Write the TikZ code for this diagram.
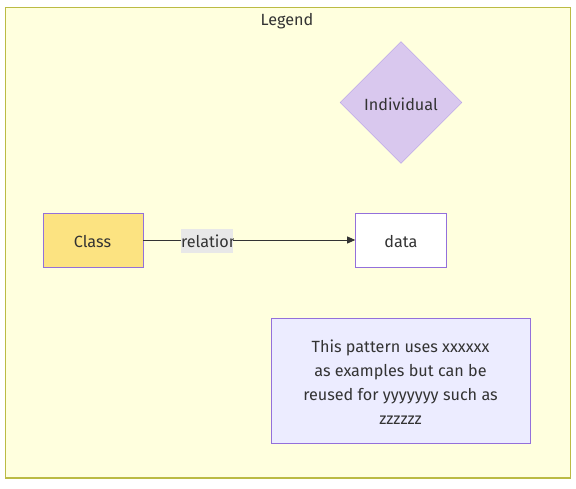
\documentclass[tikz,border=0pt]{standalone}
\usepackage{fontspec}
\setmainfont{Fira Sans}
\usetikzlibrary{positioning,shapes.geometric,arrows.meta}
\definecolor{legendfill}{HTML}{FFFFDE}
\definecolor{legendline}{HTML}{BBBB44}
\definecolor{nodeline}{HTML}{9370DB}
\definecolor{notefill}{HTML}{ECECFF}
\definecolor{classfill}{HTML}{FCE381}
\definecolor{indfill}{HTML}{D9C8EE}
\definecolor{textgray}{HTML}{333333}
\definecolor{labelfill}{HTML}{E8E8E8}

\begin{document}
\begin{tikzpicture}
   [x=1pt,y=-1pt,
    every node/.style={text=textgray,font=\fontsize{16.2}{24}\selectfont},
    box/.style={rectangle,draw=nodeline,thin,minimum height=54pt,inner sep=0pt},
    classbox/.style={box,fill=classfill,minimum width=100pt},
    databox/.style={box,fill=white,minimum width=91pt},
    notebox/.style={box,fill=notefill,minimum width=259pt,minimum height=125pt},
    indbox/.style={diamond,draw=nodeline!70,fill=indfill,thin,minimum width=122pt,minimum height=122pt,inner sep=0pt},
    relbox/.style={rectangle,fill=labelfill,minimum width=52pt,minimum height=24pt,inner sep=0pt}]

\useasboundingbox (0,0) rectangle (576,489);
% legend frame
\draw [draw=legendline,fill=legendfill,line width=1.2pt] (5.5,7.5) rectangle (570.5,478);
\node (legend) at (287,21) {Legend};

\node [indbox] (individual) at (401,102.5) {};
\node at (401,104) {Individual};
\node [classbox] (class) at (93,240) {};
\node at (92.5,241.5) {Class};
\node [databox,right=212pt of class] (data) {};
\node at (data) [yshift=-1.5pt] {data};
\node [notebox] (note) at (400.5,380.5) {};
\node [align=center] at (400.5,382) {This pattern uses xxxxxx\\as examples but can be\\reused for yyyyyyy such as\\zzzzzz};

\draw [-{Triangle[length=8pt,width=7pt]},textgray,line width=0.8pt] (class) -- (data);
\node [relbox] (rel) at (207,241) {};
\begin{scope}
  \clip (rel.south west) rectangle (rel.north east);
  \node [anchor=west,inner sep=0pt] at (rel.west) {relation};
\end{scope}
\end{tikzpicture}
\end{document}
